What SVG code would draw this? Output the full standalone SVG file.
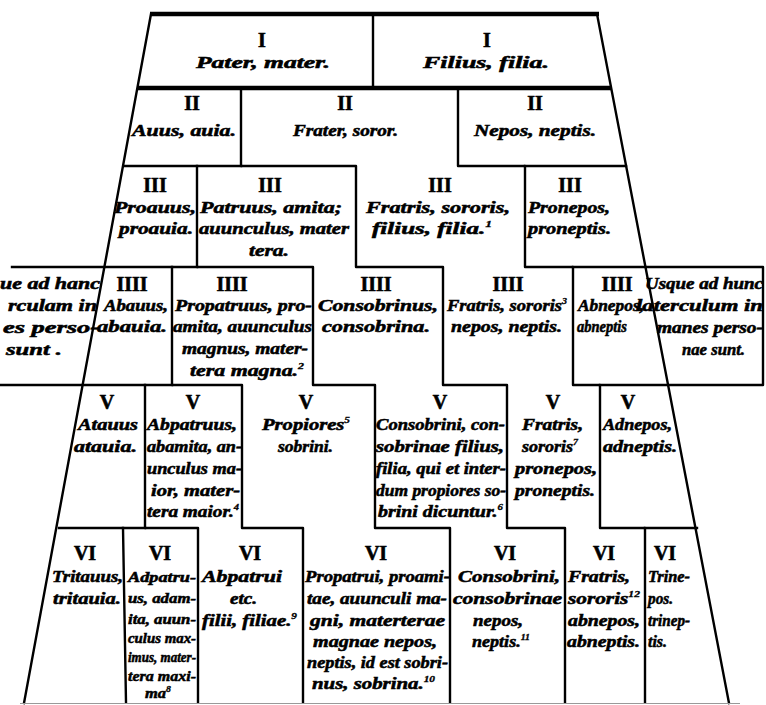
<svg xmlns="http://www.w3.org/2000/svg" width="766" height="705" viewBox="0 0 766 705">
<style>
.g{fill:none;stroke:#000;stroke-width:2.4;stroke-linejoin:round;stroke-linecap:square}
.k{fill:none;stroke:#000;stroke-width:4.5}
.t{font-family:"Liberation Serif",serif;font-style:italic;font-weight:bold;font-size:16.5px;fill:#000;stroke:#000;stroke-width:0.55}
.n{font-family:"Liberation Serif",serif;font-weight:bold;font-size:20px;fill:#000;stroke:#000;stroke-width:0.6;text-anchor:middle}
.a{font-size:15px}
.s{font-size:9px;stroke-width:0.3}
</style>
<rect width="766" height="705" fill="#fff"/>
<g id="grid">
<line class="k" x1="150" y1="14" x2="599" y2="14"/>
<line class="k" x1="137" y1="88" x2="611" y2="88"/>
<line class="g" x1="151" y1="14" x2="24" y2="703"/>
<line class="g" x1="597" y1="14" x2="729" y2="703"/>
<line class="g" x1="373" y1="14" x2="373" y2="88"/>
<path class="g" d="M241,88 V166 H356 V267 H443 V385 H507 V528 H565 V702"/>
<path class="g" d="M458,88 V166 H525 V267 H573 V385 H600 V528 H645 V702"/>
<path class="g" d="M197,166 V267 H313 V385 H375 V528 H450 V702"/>
<path class="g" d="M172,267 V385 H242 V528 H303 V702"/>
<path class="g" d="M145,385 V528 H198 V702"/>
<line class="g" x1="123" y1="528" x2="126" y2="702"/>
<line class="g" x1="125" y1="166" x2="241" y2="166"/>
<line class="g" x1="525" y1="166" x2="626" y2="166"/>
<line class="g" x1="12" y1="267" x2="197" y2="267"/>
<path class="g" d="M573,267 H763 V385 H600"/>
<line class="g" x1="0" y1="385" x2="172" y2="385"/>
<line class="g" x1="59" y1="528" x2="145" y2="528"/>
<line class="g" x1="645" y1="528" x2="697" y2="528"/>
<line x1="20" y1="703.5" x2="740" y2="703.5" stroke="#999" stroke-width="1"/>
</g>
<g id="c-pater"><text class="n" x="262" y="47">I</text><text class="t" x="196" y="68" textLength="134" lengthAdjust="spacingAndGlyphs">Pater, mater.</text></g>
<g id="c-filius"><text class="n" x="487" y="47">I</text><text class="t" x="423" y="68" textLength="126" lengthAdjust="spacingAndGlyphs">Filius, filia.</text></g>
<g id="c-auus"><text class="n" x="192" y="110">II</text><text class="t" x="132" y="136" textLength="104" lengthAdjust="spacingAndGlyphs">Auus, auia.</text></g>
<g id="c-frater"><text class="n" x="345" y="110">II</text><text class="t" x="293" y="136" textLength="105" lengthAdjust="spacingAndGlyphs">Frater, soror.</text></g>
<g id="c-nepos"><text class="n" x="535" y="110">II</text><text class="t" x="474" y="136" textLength="122" lengthAdjust="spacingAndGlyphs">Nepos, neptis.</text></g>
<g id="c-proauus"><text class="n" x="155" y="192">III</text><text class="t" x="114" y="213" textLength="82" lengthAdjust="spacingAndGlyphs">Proauus,</text><text class="t" x="119" y="234" textLength="74" lengthAdjust="spacingAndGlyphs">proauia.</text></g>
<g id="c-patruus"><text class="n" x="270" y="192">III</text><text class="t" x="200" y="213" textLength="142" lengthAdjust="spacingAndGlyphs">Patruus, amita;</text><text class="t" x="199" y="234" textLength="150" lengthAdjust="spacingAndGlyphs">auunculus, mater</text><text class="t" x="249" y="256" textLength="40" lengthAdjust="spacingAndGlyphs">tera.</text></g>
<g id="c-fratris-filius"><text class="n" x="440" y="192">III</text><text class="t" x="366" y="213" textLength="144" lengthAdjust="spacingAndGlyphs">Fratris, sororis,</text><text class="t" x="372" y="234" textLength="120" lengthAdjust="spacingAndGlyphs">filius, filia.<tspan class="s" dy="-7">1</tspan></text></g>
<g id="c-pronepos"><text class="n" x="570" y="192">III</text><text class="t" x="528" y="213" textLength="82" lengthAdjust="spacingAndGlyphs">Pronepos,</text><text class="t" x="528" y="234" textLength="83" lengthAdjust="spacingAndGlyphs">proneptis.</text></g>
<g id="c-usque-l"><text class="t" x="0" y="289" textLength="100" lengthAdjust="spacingAndGlyphs">ue ad hanc</text><text class="t" x="8" y="311" textLength="89" lengthAdjust="spacingAndGlyphs">rculam in</text><text class="t" x="3" y="333" textLength="96" lengthAdjust="spacingAndGlyphs">es perso-</text><text class="t" x="6" y="355" textLength="56" lengthAdjust="spacingAndGlyphs">sunt .</text></g>
<g id="c-abauus"><text class="n" x="132" y="291">IIII</text><text class="t" x="104" y="311" textLength="64" lengthAdjust="spacingAndGlyphs">Abauus,</text><text class="t" x="97" y="332" textLength="70" lengthAdjust="spacingAndGlyphs">abauia.</text></g>
<g id="c-propatruus"><text class="n" x="232" y="291">IIII</text><text class="t" x="175" y="311" textLength="137" lengthAdjust="spacingAndGlyphs">Propatruus, pro-</text><text class="t" x="173" y="332" textLength="139" lengthAdjust="spacingAndGlyphs">amita, auunculus</text><text class="t" x="182" y="354" textLength="126" lengthAdjust="spacingAndGlyphs">magnus, mater-</text><text class="t" x="190" y="376" textLength="114" lengthAdjust="spacingAndGlyphs">tera magna.<tspan class="s" dy="-7">2</tspan></text></g>
<g id="c-consobrinus"><text class="n" x="376" y="291">IIII</text><text class="t" x="318" y="311" textLength="120" lengthAdjust="spacingAndGlyphs">Consobrinus,</text><text class="t" x="322" y="332" textLength="108" lengthAdjust="spacingAndGlyphs">consobrina.</text></g>
<g id="c-fratris-nepos"><text class="n" x="508" y="291">IIII</text><text class="t" x="447" y="311" textLength="120" lengthAdjust="spacingAndGlyphs">Fratris, sororis<tspan class="s" dy="-7">3</tspan></text><text class="t" x="451" y="332" textLength="111" lengthAdjust="spacingAndGlyphs">nepos, neptis.</text></g>
<g id="c-abnepos"><text class="n" x="617" y="291">IIII</text><text class="t" x="578" y="311" textLength="66" lengthAdjust="spacingAndGlyphs">Abnepos,</text><text class="t" x="577" y="332" textLength="50" lengthAdjust="spacingAndGlyphs">abneptis</text></g>
<g id="c-usque-r"><text class="t" x="645" y="289" textLength="118" lengthAdjust="spacingAndGlyphs">Usque ad hunc</text><text class="t" x="636" y="311" textLength="127" lengthAdjust="spacingAndGlyphs">laterculum in</text><text class="t" x="657" y="333" textLength="106" lengthAdjust="spacingAndGlyphs">manes perso-</text><text class="t" x="682" y="355" textLength="63" lengthAdjust="spacingAndGlyphs">nae sunt.</text></g>
<g id="c-atauus"><text class="n" x="107" y="409">V</text><text class="t" x="78" y="430" textLength="60" lengthAdjust="spacingAndGlyphs">Atauus</text><text class="t" x="74" y="452" textLength="63" lengthAdjust="spacingAndGlyphs">atauia.</text></g>
<g id="c-abpatruus"><text class="n" x="193" y="409">V</text><text class="t" x="147" y="430" textLength="90" lengthAdjust="spacingAndGlyphs">Abpatruus,</text><text class="t" x="147" y="452" textLength="95" lengthAdjust="spacingAndGlyphs">abamita, an-</text><text class="t" x="147" y="474" textLength="95" lengthAdjust="spacingAndGlyphs">unculus ma-</text><text class="t" x="151" y="496" textLength="89" lengthAdjust="spacingAndGlyphs">ior, mater-</text><text class="t" x="147" y="517" textLength="92" lengthAdjust="spacingAndGlyphs">tera maior.<tspan class="s" dy="-7">4</tspan></text></g>
<g id="c-propiores"><text class="n" x="306" y="409">V</text><text class="t" x="262" y="430" textLength="88" lengthAdjust="spacingAndGlyphs">Propiores<tspan class="s" dy="-7">5</tspan></text><text class="t" x="278" y="452" textLength="55" lengthAdjust="spacingAndGlyphs">sobrini.</text></g>
<g id="c-consobrini-filius"><text class="n" x="440" y="409">V</text><text class="t" x="376" y="430" textLength="129" lengthAdjust="spacingAndGlyphs">Consobrini, con-</text><text class="t" x="376" y="452" textLength="128" lengthAdjust="spacingAndGlyphs">sobrinae filius,</text><text class="t" x="376" y="474" textLength="130" lengthAdjust="spacingAndGlyphs">filia, qui et inter-</text><text class="t" x="376" y="496" textLength="130" lengthAdjust="spacingAndGlyphs">dum propiores so-</text><text class="t" x="378" y="517" textLength="125" lengthAdjust="spacingAndGlyphs">brini dicuntur.<tspan class="s" dy="-7">6</tspan></text></g>
<g id="c-fratris-pronepos"><text class="n" x="553" y="409">V</text><text class="t" x="522" y="430" textLength="61" lengthAdjust="spacingAndGlyphs">Fratris,</text><text class="t" x="522" y="452" textLength="56" lengthAdjust="spacingAndGlyphs">sororis<tspan class="s" dy="-7">7</tspan></text><text class="t" x="515" y="474" textLength="82" lengthAdjust="spacingAndGlyphs">pronepos,</text><text class="t" x="515" y="496" textLength="80" lengthAdjust="spacingAndGlyphs">proneptis.</text></g>
<g id="c-adnepos"><text class="n" x="628" y="409">V</text><text class="t" x="603" y="430" textLength="69" lengthAdjust="spacingAndGlyphs">Adnepos,</text><text class="t" x="603" y="452" textLength="74" lengthAdjust="spacingAndGlyphs">adneptis.</text></g>
<g id="c-tritauus"><text class="n" x="85" y="560">VI</text><text class="t" x="52" y="582" textLength="71" lengthAdjust="spacingAndGlyphs">Tritauus,</text><text class="t" x="53" y="604" textLength="68" lengthAdjust="spacingAndGlyphs">tritauia.</text></g>
<g id="c-adpatruus"><text class="n" x="160" y="560">VI</text><text class="t a" x="128" y="582" textLength="68" lengthAdjust="spacingAndGlyphs">Adpatru-</text><text class="t a" x="128" y="603" textLength="68" lengthAdjust="spacingAndGlyphs">us, adam-</text><text class="t a" x="128" y="624" textLength="68" lengthAdjust="spacingAndGlyphs">ita, auun-</text><text class="t a" x="128" y="643" textLength="68" lengthAdjust="spacingAndGlyphs">culus max-</text><text class="t a" x="128" y="662" textLength="68" lengthAdjust="spacingAndGlyphs">imus, mater-</text><text class="t a" x="128" y="681" textLength="68" lengthAdjust="spacingAndGlyphs">tera maxi-</text><text class="t a" x="145" y="698" textLength="26" lengthAdjust="spacingAndGlyphs">ma<tspan class="s" dy="-6">8</tspan></text></g>
<g id="c-abpatrui-filii"><text class="n" x="250" y="560">VI</text><text class="t" x="202" y="582" textLength="80" lengthAdjust="spacingAndGlyphs">Abpatrui</text><text class="t" x="230" y="604" textLength="27" lengthAdjust="spacingAndGlyphs">etc.</text><text class="t" x="202" y="626" textLength="95" lengthAdjust="spacingAndGlyphs">filii, filiae.<tspan class="s" dy="-7">9</tspan></text></g>
<g id="c-propatrui-nepos"><text class="n" x="376" y="560">VI</text><text class="t" x="305" y="582" textLength="145" lengthAdjust="spacingAndGlyphs">Propatrui, proami-</text><text class="t" x="307" y="604" textLength="140" lengthAdjust="spacingAndGlyphs">tae, auunculi ma-</text><text class="t" x="310" y="626" textLength="135" lengthAdjust="spacingAndGlyphs">gni, materterae</text><text class="t" x="313" y="647" textLength="124" lengthAdjust="spacingAndGlyphs">magnae nepos,</text><text class="t" x="307" y="668" textLength="141" lengthAdjust="spacingAndGlyphs">neptis, id est sobri-</text><text class="t" x="312" y="689" textLength="123" lengthAdjust="spacingAndGlyphs">nus, sobrina.<tspan class="s" dy="-7">10</tspan></text></g>
<g id="c-consobrini-nepos"><text class="n" x="505" y="560">VI</text><text class="t" x="458" y="582" textLength="102" lengthAdjust="spacingAndGlyphs">Consobrini,</text><text class="t" x="453" y="604" textLength="109" lengthAdjust="spacingAndGlyphs">consobrinae</text><text class="t" x="473" y="626" textLength="50" lengthAdjust="spacingAndGlyphs">nepos,</text><text class="t" x="472" y="647" textLength="58" lengthAdjust="spacingAndGlyphs">neptis.<tspan class="s" dy="-7">11</tspan></text></g>
<g id="c-fratris-abnepos"><text class="n" x="604" y="560">VI</text><text class="t" x="568" y="582" textLength="62" lengthAdjust="spacingAndGlyphs">Fratris,</text><text class="t" x="568" y="604" textLength="72" lengthAdjust="spacingAndGlyphs">sororis<tspan class="s" dy="-7">12</tspan></text><text class="t" x="568" y="626" textLength="72" lengthAdjust="spacingAndGlyphs">abnepos,</text><text class="t" x="567" y="647" textLength="73" lengthAdjust="spacingAndGlyphs">abneptis.</text></g>
<g id="c-trinepos"><text class="n" x="665" y="560">VI</text><text class="t" x="648" y="582" textLength="42" lengthAdjust="spacingAndGlyphs">Trine-</text><text class="t" x="648" y="604" textLength="25" lengthAdjust="spacingAndGlyphs">pos.</text><text class="t" x="648" y="626" textLength="42" lengthAdjust="spacingAndGlyphs">trinep-</text><text class="t" x="648" y="647" textLength="19" lengthAdjust="spacingAndGlyphs">tis.</text></g>
</svg>
